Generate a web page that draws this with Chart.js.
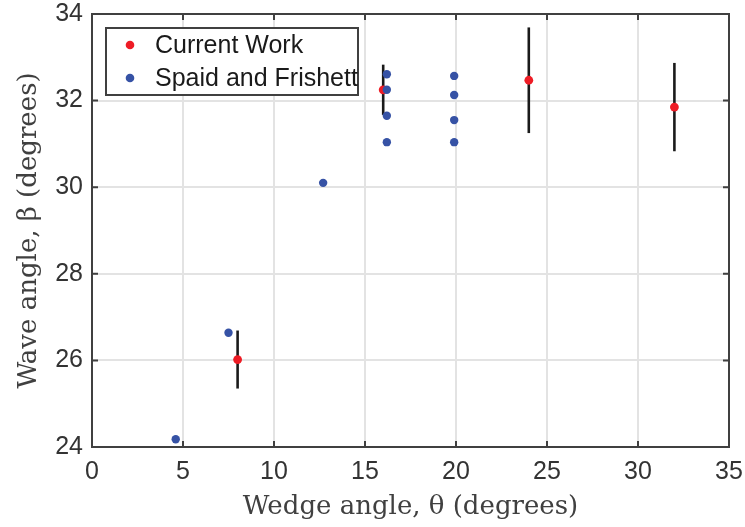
<!DOCTYPE html>
<html>
<head>
<meta charset="utf-8">
<script src="https://cdn.jsdelivr.net/npm/chart.js@4.4.1/dist/chart.umd.min.js"></script>
<style>
  html, body { margin: 0; padding: 0; background: #fff; }
  #wrap { width: 745px; height: 527px; }
</style>
</head>
<body>
<div id="wrap"><canvas id="c" width="745" height="527"></canvas></div>
<script>
// ---- data ----
const currentLabel = 'Current Work';
const currentX = [8, 16, 24, 32];
const currentY = [26.02, 32.25, 32.47, 31.85];
const currentErr = [0.67, 0.58, 1.22, 1.02];

const spaidLabel = 'Spaid and Frishett';
const spaidX = [4.6, 7.5, 12.7, 16.2, 16.2, 16.2, 16.2, 19.9, 19.9, 19.9, 19.9];
const spaidY = [24.18, 26.64, 30.1, 32.61, 32.25, 31.65, 31.04, 32.57, 32.13, 31.55, 31.04];

const xTicks = [0, 5, 10, 15, 20, 25, 30, 35];
const yTicks = [24, 26, 28, 30, 32, 34];
const xTitle = 'Wedge angle, θ (degrees)';
const yTitle = 'Wave angle, β (degrees)';

const RED = '#ee1c25';
const BLUE = '#3652a5';
const FRAME = '#404040';
const GRID = '#e3e3e3';
const TXT = '#333333';

const toPts = (xs, ys) => xs.map((x, i) => ({ x: x, y: ys[i] }));

const frameAndTicks = {
  id: 'frameAndTicks',
  beforeDatasetsDraw(chart) {
    // error bars
    const ctx = chart.ctx, xs = chart.scales.x, ys = chart.scales.y;
    ctx.save();
    ctx.strokeStyle = '#1a1a1a';
    ctx.lineWidth = 2.6;
    currentX.forEach((x, i) => {
      const px = xs.getPixelForValue(x);
      ctx.beginPath();
      ctx.moveTo(px, ys.getPixelForValue(currentY[i] + currentErr[i]));
      ctx.lineTo(px, ys.getPixelForValue(currentY[i] - currentErr[i]));
      ctx.stroke();
    });
    ctx.restore();
  },
  afterDraw(chart) {
    const ctx = chart.ctx, a = chart.chartArea, xs = chart.scales.x, ys = chart.scales.y;
    ctx.save();
    ctx.strokeStyle = FRAME;
    ctx.lineWidth = 2;
    ctx.strokeRect(a.left, a.top, a.right - a.left, a.bottom - a.top);
    const tl = 6;
    ctx.beginPath();
    xTicks.forEach(v => {
      const p = xs.getPixelForValue(v);
      ctx.moveTo(p, a.bottom); ctx.lineTo(p, a.bottom - tl);
      ctx.moveTo(p, a.top); ctx.lineTo(p, a.top + tl);
    });
    yTicks.forEach(v => {
      const p = ys.getPixelForValue(v);
      ctx.moveTo(a.left, p); ctx.lineTo(a.left + tl, p);
      ctx.moveTo(a.right, p); ctx.lineTo(a.right - tl, p);
    });
    ctx.stroke();

    // legend box
    const lx = a.left + 14, ly = a.top + 14, lw = 252, lh = 67;
    ctx.fillStyle = '#ffffff';
    ctx.fillRect(lx, ly, lw, lh);
    ctx.lineWidth = 2;
    ctx.strokeStyle = FRAME;
    ctx.strokeRect(lx, ly, lw, lh);
    const items = [[currentLabel, RED], [spaidLabel, BLUE]];
    ctx.font = '25px "Liberation Sans", Arial, sans-serif';
    ctx.textBaseline = 'middle';
    ctx.textAlign = 'left';
    items.forEach((it, i) => {
      const cy = ly + 17 + i * 33;
      ctx.fillStyle = it[1];
      ctx.beginPath();
      ctx.arc(lx + 24, cy, 4.3, 0, Math.PI * 2);
      ctx.fill();
      ctx.fillStyle = '#1a1a1a';
      ctx.fillText(it[0], lx + 49, cy + 1);
    });
    ctx.restore();
  }
};

new Chart(document.getElementById('c'), {
  type: 'scatter',
  data: {
    datasets: [
      {
        label: spaidLabel,
        data: toPts(spaidX, spaidY),
        backgroundColor: BLUE,
        borderColor: BLUE,
        borderWidth: 0,
        pointRadius: 4.2,
        order: 0
      },
      {
        label: currentLabel,
        data: toPts(currentX, currentY),
        backgroundColor: RED,
        borderColor: RED,
        borderWidth: 0,
        pointRadius: 4.4,
        order: 1
      }
    ]
  },
  options: {
    responsive: false,
    animation: false,
    devicePixelRatio: 1,
    layout: { padding: { top: 14, right: 16, left: 0, bottom: 0 } },
    plugins: { legend: { display: false }, tooltip: { enabled: false } },
    scales: {
      x: {
        type: 'linear',
        min: 0, max: 35,
        afterBuildTicks: s => { s.ticks = xTicks.map(v => ({ value: v })); },
        afterFit: s => { s.height = 80; s.paddingLeft = 0; s.paddingRight = 0; },
        grid: { color: GRID, lineWidth: 2, drawTicks: false },
        border: { display: false },
        ticks: { color: TXT, font: { family: '"Liberation Sans", Arial, sans-serif', size: 25 }, padding: 10 },
        title: { display: true, text: xTitle, color: '#404040', font: { family: '"DejaVu Serif", serif', size: 26 }, padding: { top: 0, bottom: 4 } }
      },
      y: {
        type: 'linear',
        min: 24, max: 34,
        afterBuildTicks: s => { s.ticks = yTicks.map(v => ({ value: v })); },
        afterFit: s => { s.width = 92; s.paddingTop = 0; s.paddingBottom = 0; },
        grid: { color: GRID, lineWidth: 2, drawTicks: false },
        border: { display: false },
        ticks: { color: TXT, font: { family: '"Liberation Sans", Arial, sans-serif', size: 25 }, padding: 9 },
        title: { display: true, text: yTitle, color: '#404040', font: { family: '"DejaVu Serif", serif', size: 26 }, padding: { top: 14, bottom: 0 } }
      }
    }
  },
  plugins: [frameAndTicks]
});
</script>
</body>
</html>
